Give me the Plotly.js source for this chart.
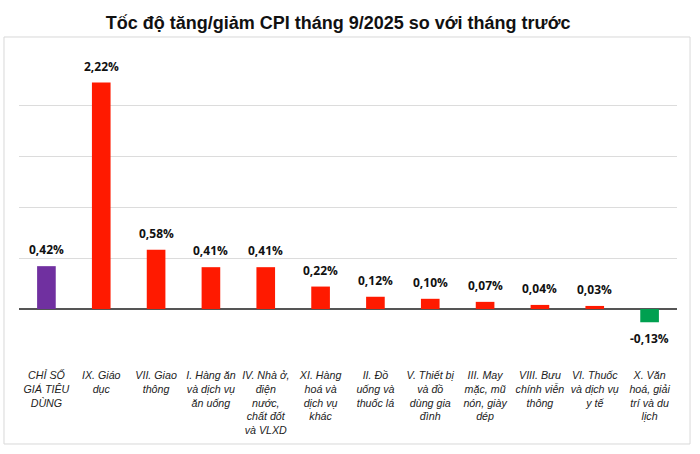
<!DOCTYPE html>
<html>
<head>
<meta charset="utf-8">
<script src="https://cdn.plot.ly/plotly-3.0.1.min.js"></script>
<style>html,body{margin:0;padding:0;background:#fff;}#chart{width:700px;height:454px;}</style>
</head>
<body>
<div id="chart"></div>
<script>
const categories = [
  "CHỈ SỐ<br>GIÁ TIÊU<br>DÙNG",
  "IX. Giáo<br>dục",
  "VII. Giao<br>thông",
  "I. Hàng ăn<br>và dịch vụ<br>ăn uống",
  "IV. Nhà ở,<br>điện<br>nước,<br>chất đốt<br>và VLXD",
  "XI. Hàng<br>hoá và<br>dịch vụ<br>khác",
  "II. Đồ<br>uống và<br>thuốc lá",
  "V. Thiết bị<br>và đồ<br>dùng gia<br>đình",
  "III. May<br>mặc, mũ<br>nón, giày<br>dép",
  "VIII. Bưu<br>chính viễn<br>thông",
  "VI. Thuốc<br>và dịch vụ<br>y tế",
  "X. Văn<br>hoá, giải<br>trí và du<br>lịch"
];
const values = [0.42, 2.22, 0.58, 0.41, 0.41, 0.22, 0.12, 0.10, 0.07, 0.04, 0.03, -0.13];
const labels = ["0,42%", "2,22%", "0,58%", "0,41%", "0,41%", "0,22%", "0,12%", "0,10%", "0,07%", "0,04%", "0,03%", "-0,13%"];
const colors = values.map((v, i) => i === 0 ? "#7030A0" : (v < 0 ? "#00A050" : "#FF1A00"));

const trace = {
  type: "bar",
  x: categories,
  y: values,
  marker: {color: colors, line: {width: 0}},
  hoverinfo: "skip"
};

const annotations = values.map((v, i) => ({
  x: categories[i], y: v, xref: "x", yref: "y",
  text: labels[i], showarrow: false,
  yanchor: v >= 0 ? "bottom" : "top",
  yshift: v >= 0 ? 6 : -6,
  font: {family: "Open Sans, Liberation Sans, sans-serif", size: 12, color: "#111", weight: "bold"}
}));

const layout = {
  width: 700, height: 454,
  margin: {l: 19, r: 23, t: 54, b: 94},
  paper_bgcolor: "#ffffff", plot_bgcolor: "#ffffff",
  showlegend: false,
  bargap: 0.66,
  title: {
    text: "<b>Tốc độ tăng/giảm CPI tháng 9/2025 so với tháng trước</b>",
    x: 0.483, xref: "container", xanchor: "center",
    y: 0.950, yref: "container", yanchor: "middle",
    font: {family: "Liberation Sans, Arial, sans-serif", size: 18, color: "#111"}
  },
  xaxis: {
    type: "category",
    showgrid: false, zeroline: false, showline: false,
    ticks: "", tickangle: 0, ticklabelstandoff: 7,
    tickfont: {family: "Liberation Sans, Arial, sans-serif", size: 10.7, color: "#222", style: "italic"},
    fixedrange: true
  },
  yaxis: {
    range: [-0.5, 2.5], dtick: 0.5, tick0: 0,
    showticklabels: false, ticks: "",
    showgrid: true, gridcolor: "#dcdcdc", gridwidth: 1,
    zeroline: true, zerolinecolor: "#555555", zerolinewidth: 1.5,
    showline: false, fixedrange: true
  },
  annotations: annotations,
  shapes: [{
    type: "rect", xref: "paper", yref: "paper",
    x0: -0.0228, x1: 1.0198, y0: -0.2745, y1: 1.0556,
    line: {color: "#d9d9d9", width: 1}, layer: "below"
  }]
};

Plotly.newPlot("chart", [trace], layout, {displayModeBar: false, staticPlot: true});
</script>
</body>
</html>
